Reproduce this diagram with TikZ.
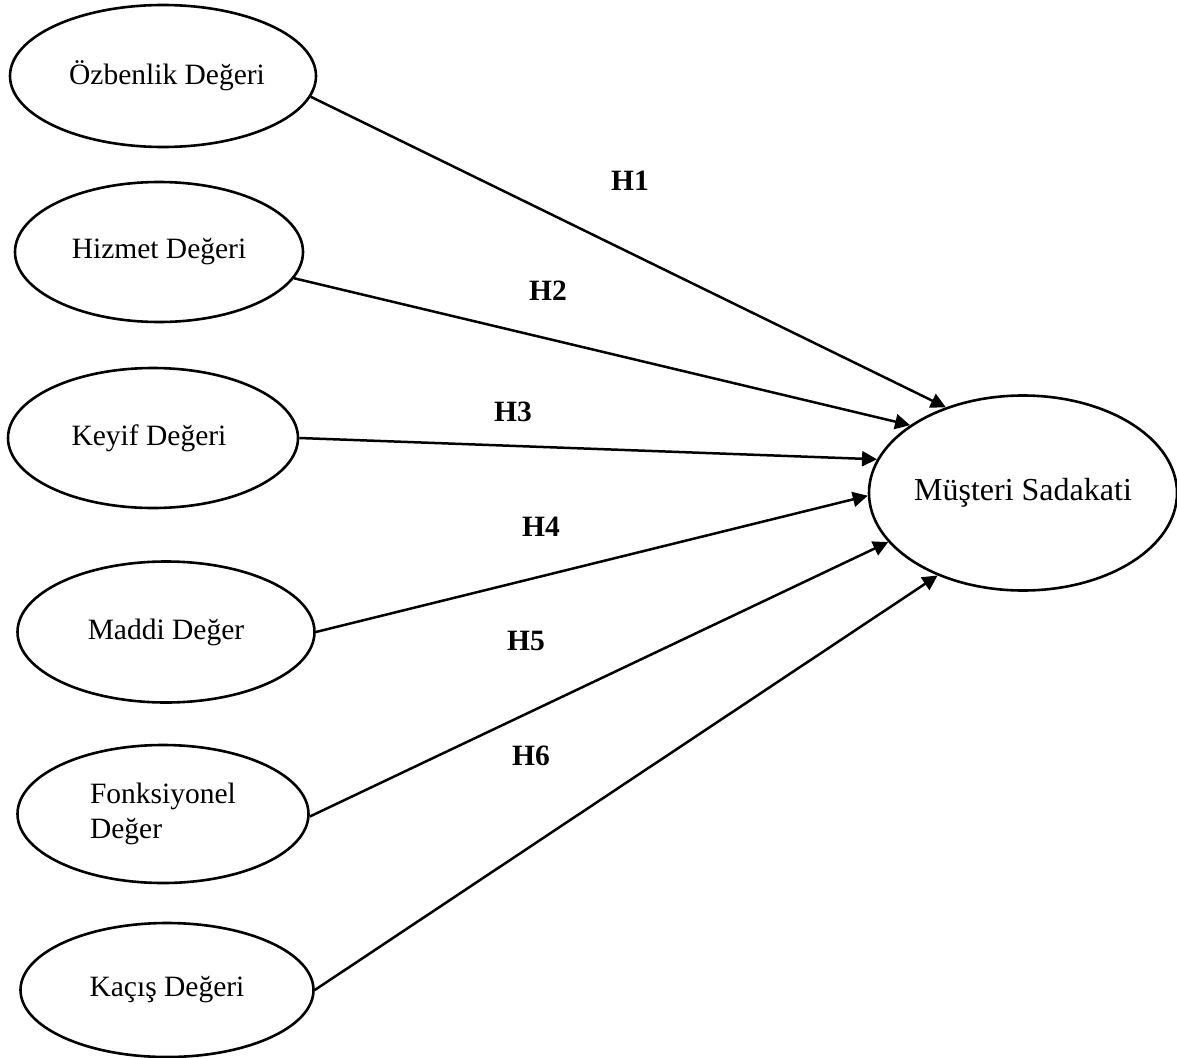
\documentclass[tikz,border=0pt]{standalone}
\usepackage{fontspec}
\setmainfont{Liberation Serif}
\usetikzlibrary{shapes.geometric,arrows.meta}
\begin{document}
\begin{tikzpicture}[x=1pt,y=-1pt,
  construct/.style={draw,ellipse,line width=2.6pt,inner sep=0pt,
    font=\fontsize{29.5}{35}\selectfont},
  path/.style={line width=2.5pt,-{Triangle[length=15pt,width=15pt]}},
  hyp/.style={font=\fontsize{29.5}{35}\selectfont\bfseries}]
\useasboundingbox (0,0) rectangle (1177,1057);

% independent constructs
\node[construct,minimum width=306pt,minimum height=142pt] (oz) at (163,76) {\hspace*{8pt}Özbenlik Değeri};
\node[construct,minimum width=288pt,minimum height=140pt] (hz) at (159,252) {Hizmet Değeri};
\node[construct,minimum width=290pt,minimum height=140pt] (ky) at (153,438) {Keyif Değeri\hspace*{8pt}};
\node[construct,minimum width=297pt,minimum height=141pt] (md) at (166,632) {Maddi Değer};
\node[construct,minimum width=291pt,minimum height=138pt,align=left] (fn) at (163,814) {Fonksiyonel\\Değer\hspace*{10pt}};
\node[construct,minimum width=293pt,minimum height=134pt] (kc) at (167,990) {Kaçış Değeri};

% dependent construct
\node[construct,minimum width=308pt,minimum height=195pt,font=\fontsize{32}{37}\selectfont] (ms) at (1023,493) {Müşteri Sadakati};

% hypothesised paths
\draw[path] (oz.-8) -- (ms.132.6);
\draw[path] (hz.-11) -- (ms.149.8);
\draw[path] (ky.east) -- (ms.167);
\draw[path] (md.east) -- (ms.181.5);
\draw[path] (fn.-1) -- (ms.200.9);
\draw[path] (kc.east) -- (ms.224.7);

% hypothesis labels
\node[hyp] (h1) at (630,181) {H1};
\node[hyp] (h2) at (548,291) {H2};
\node[hyp] (h3) at (513,412) {H3};
\node[hyp] (h4) at (541,527) {H4};
\node[hyp] (h5) at (526,641) {H5};
\node[hyp] (h6) at (531,756) {H6};
\end{tikzpicture}
\end{document}
